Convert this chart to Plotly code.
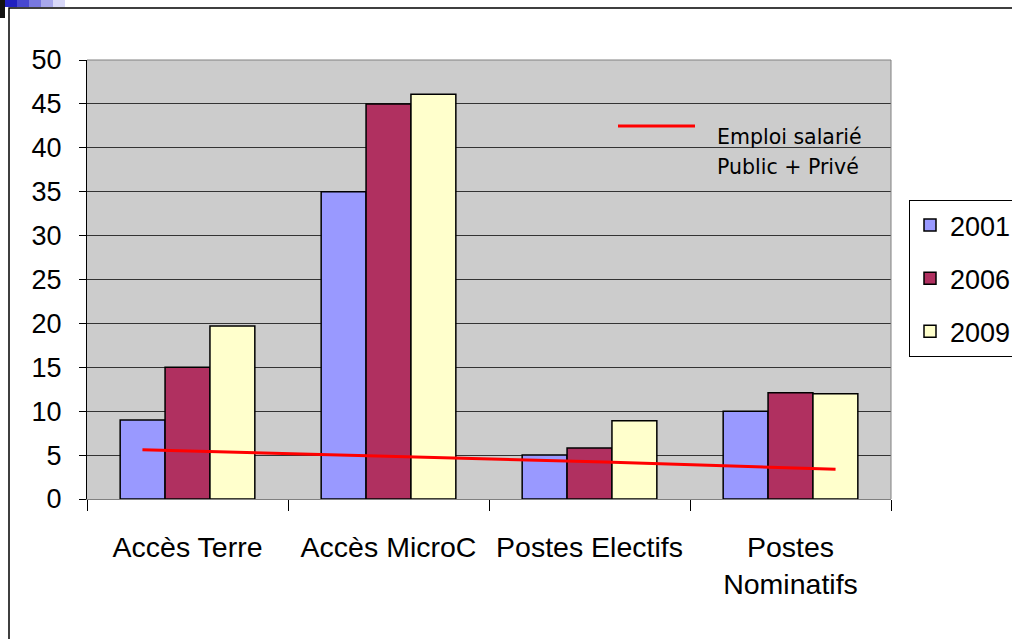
import plotly.graph_objects as go

categories = ["Accès Terre", "Accès MicroC", "Postes Electifs", "Postes<br>Nominatifs"]
years = ["2001", "2006", "2009"]
v2001 = [9, 35, 5, 10]
v2006 = [15, 45, 5.8, 12.1]
v2009 = [19.7, 46.1, 8.9, 12]
emploi = [5.6, 4.9, 4.2, 3.4]
y_ticks = [0, 5, 10, 15, 20, 25, 30, 35, 40, 45, 50]
note_lines = ["Emploi salarié", "Public + Privé"]

colors = ["#9999FF", "#B03060", "#FFFFCC"]
font = "Liberation Sans, Arial, sans-serif"

fig = go.Figure()
for name, vals, c in zip(years, [v2001, v2006, v2009], colors):
    fig.add_trace(go.Bar(x=categories, y=vals, name=name, legendgroup=name,
                         marker=dict(color=c, line=dict(color="black", width=1.5))))

fig.add_trace(go.Scatter(x=list(range(len(emploi))), y=emploi, xaxis="x2", mode="lines",
                         line=dict(color="#FF0000", width=3), showlegend=False, hoverinfo="skip"))

W, H = 1012, 639
L, R, T, B = 87, 891, 60, 499
pw, ph = R - L, B - T

def px(x):
    return (x - L) / pw

def py(y):
    return (B - y) / ph

grad = ["#2020C0", "#4848D0", "#7878E0", "#A8A8EC", "#D8D8F8"]
shapes = [
    dict(type="line", xref="paper", yref="paper", x0=px(618), x1=px(695),
         y0=py(126), y1=py(126), line=dict(color="#FF0000", width=3)),
    dict(type="line", xref="paper", yref="paper", x0=1, x1=1, y0=0, y1=1, line=dict(color="#808080", width=1)),
    dict(type="line", xref="paper", yref="paper", x0=0, x1=1, y0=1, y1=1, line=dict(color="#808080", width=1)),
    dict(type="rect", xref="paper", yref="paper", x0=px(9), x1=px(1030),
         y0=py(660), y1=py(8), line=dict(color="black", width=1.5)),
]
for i, g in enumerate(grad):
    shapes.append(dict(type="rect", xref="paper", yref="paper", x0=px(5 + 12 * i), x1=px(17 + 12 * i),
                       y0=py(7), y1=py(0), line=dict(width=0), fillcolor=g))
shapes.append(dict(type="rect", xref="paper", yref="paper", x0=px(0), x1=px(5), y0=py(18), y1=py(0),
                   line=dict(width=0), fillcolor="#111111"))

annotations = []
for i, t in enumerate(note_lines):
    annotations.append(dict(xref="paper", yref="paper", x=px(715), y=py(137 + 30 * i),
                            xanchor="left", yanchor="middle", text=t, showarrow=False,
                            font=dict(family="DejaVu Sans, Verdana, sans-serif", size=20.5, color="black")))

fig.update_layout(
    width=W, height=H,
    margin=dict(l=L, r=W - R, t=T, b=H - B, autoexpand=False),
    paper_bgcolor="white", plot_bgcolor="#CCCCCC",
    barmode="group", bargap=0.33, bargroupgap=0,
    font=dict(family=font, size=27, color="black"),
    xaxis=dict(type="category", tickson="boundaries", ticks="outside", ticklen=11, tickcolor="black",
               showline=True, linecolor="#808080", linewidth=1, showgrid=False,
               tickfont=dict(size=28.5), ticklabelstandoff=23, range=[-0.5, 3.5]),
    xaxis2=dict(overlaying="x", range=[-0.24, 3.24], visible=False),
    yaxis=dict(range=[0, 50], tickvals=y_ticks, ticks="outside", ticklen=7, tickcolor="black",
               showline=True, linecolor="black", linewidth=1, gridcolor="#333333", gridwidth=1,
               zeroline=False, tickfont=dict(size=27), ticklabelstandoff=12),
    legend=dict(x=px(909), y=py(200), xanchor="left", yanchor="top", bgcolor="white",
                bordercolor="black", borderwidth=1, font=dict(size=27), tracegroupgap=15,
                itemwidth=30),
    shapes=shapes,
    annotations=annotations,
)

fig.write_html("out.html", config={"displayModeBar": False},
               post_script="document.body.style.margin='0';")
